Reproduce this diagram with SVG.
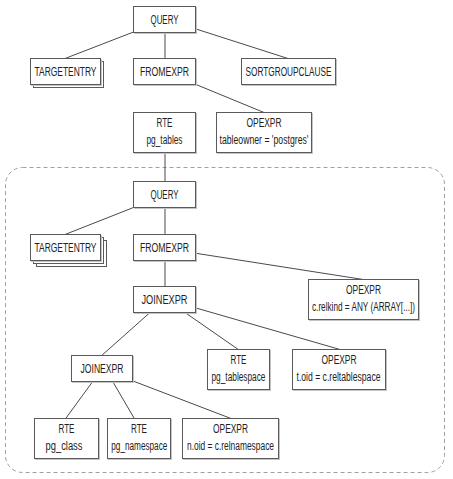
<svg xmlns="http://www.w3.org/2000/svg" width="453" height="479" viewBox="0 0 453 479">
<style>
.box{fill:#fff;stroke:#5a5a5a;stroke-width:1}
.sh{fill:none;stroke:#c4c4c4;stroke-width:1}
.stk{fill:#fff;stroke:#5a5a5a;stroke-width:1}
text{font-family:"Liberation Sans",Arial,sans-serif;font-size:12px;fill:#222;text-anchor:middle}
.conn line{stroke:#4a4a4a;stroke-width:1}
.frame{fill:none;stroke:#a0a0a0;stroke-width:1;stroke-dasharray:4 3}
</style>
<rect class="frame" x="5.5" y="167.5" width="439" height="305" rx="17"/>
<g class="conn">
<line x1="133.5" y1="32" x2="65" y2="58.5"/>
<line x1="165" y1="32.5" x2="165" y2="58.5"/>
<line x1="196" y1="29" x2="288" y2="58.5"/>
<line x1="196" y1="84.5" x2="264" y2="112.5"/>
<line x1="165" y1="152.5" x2="165" y2="181.5"/>
<line x1="133.5" y1="207.5" x2="65" y2="234.5"/>
<line x1="165" y1="207.5" x2="165" y2="234.5"/>
<line x1="196" y1="253.3" x2="363.3" y2="279.5"/>
<line x1="165" y1="260.5" x2="165" y2="286.5"/>
<line x1="150" y1="312.5" x2="101.7" y2="355.5"/>
<line x1="185" y1="312.5" x2="238.3" y2="349.5"/>
<line x1="196" y1="308" x2="340" y2="349.5"/>
<line x1="92.7" y1="381.5" x2="65.7" y2="418.5"/>
<line x1="112.7" y1="381.5" x2="134.3" y2="418.5"/>
<line x1="133" y1="381" x2="231" y2="418.5"/>
</g>
<g id="query1"><rect class="sh" x="134.5" y="7.5" width="62" height="26"/><rect class="box" x="133.5" y="6.5" width="62" height="26"/><text x="164.5" y="23.5" textLength="28" lengthAdjust="spacingAndGlyphs">QUERY</text></g>
<g id="targetentry1"><rect class="stk" x="33.5" y="61.5" width="70" height="26"/><rect class="sh" x="31.5" y="59.5" width="70" height="26"/><rect class="box" x="30.5" y="58.5" width="70" height="26"/><text x="65.5" y="75.5" textLength="62" lengthAdjust="spacingAndGlyphs">TARGETENTRY</text></g>
<g id="fromexpr1"><rect class="sh" x="134.5" y="59.5" width="62" height="26"/><rect class="box" x="133.5" y="58.5" width="62" height="26"/><text x="164.5" y="75.5" textLength="49" lengthAdjust="spacingAndGlyphs">FROMEXPR</text></g>
<g id="sortgroupclause"><rect class="sh" x="242.5" y="59.5" width="94" height="26"/><rect class="box" x="241.5" y="58.5" width="94" height="26"/><text x="288.5" y="75.5" textLength="86" lengthAdjust="spacingAndGlyphs">SORTGROUPCLAUSE</text></g>
<g id="rte_pg_tables"><rect class="sh" x="134.5" y="113.5" width="62" height="40"/><rect class="box" x="133.5" y="112.5" width="62" height="40"/><text x="164.5" y="126.5" textLength="16" lengthAdjust="spacingAndGlyphs">RTE</text><text x="164.5" y="144" textLength="36" lengthAdjust="spacingAndGlyphs">pg_tables</text></g>
<g id="opexpr_tableowner"><rect class="sh" x="217.5" y="113.5" width="95" height="40"/><rect class="box" x="216.5" y="112.5" width="95" height="40"/><text x="264" y="126.5" textLength="35" lengthAdjust="spacingAndGlyphs">OPEXPR</text><text x="264" y="144" textLength="89" lengthAdjust="spacingAndGlyphs">tableowner = 'postgres'</text></g>
<g id="query2"><rect class="sh" x="134.5" y="182.5" width="62" height="26"/><rect class="box" x="133.5" y="181.5" width="62" height="26"/><text x="164.5" y="198.5" textLength="28" lengthAdjust="spacingAndGlyphs">QUERY</text></g>
<g id="targetentry2"><rect class="stk" x="36.5" y="240.5" width="70" height="26"/><rect class="stk" x="33.5" y="237.5" width="70" height="26"/><rect class="sh" x="31.5" y="235.5" width="70" height="26"/><rect class="box" x="30.5" y="234.5" width="70" height="26"/><text x="65.5" y="251.5" textLength="62" lengthAdjust="spacingAndGlyphs">TARGETENTRY</text></g>
<g id="fromexpr2"><rect class="sh" x="134.5" y="235.5" width="62" height="26"/><rect class="box" x="133.5" y="234.5" width="62" height="26"/><text x="164.5" y="251.5" textLength="49" lengthAdjust="spacingAndGlyphs">FROMEXPR</text></g>
<g id="opexpr_relkind"><rect class="sh" x="309.5" y="280.5" width="110" height="40"/><rect class="box" x="308.5" y="279.5" width="110" height="40"/><text x="363.5" y="293.5" textLength="35" lengthAdjust="spacingAndGlyphs">OPEXPR</text><text x="363.5" y="311" textLength="103" lengthAdjust="spacingAndGlyphs">c.relkind = ANY (ARRAY[...])</text></g>
<g id="joinexpr1"><rect class="sh" x="134.5" y="287.5" width="62" height="26"/><rect class="box" x="133.5" y="286.5" width="62" height="26"/><text x="164.5" y="303.5" textLength="46" lengthAdjust="spacingAndGlyphs">JOINEXPR</text></g>
<g id="joinexpr2"><rect class="sh" x="72.5" y="356.5" width="61" height="26"/><rect class="box" x="71.5" y="355.5" width="61" height="26"/><text x="102" y="372.5" textLength="43" lengthAdjust="spacingAndGlyphs">JOINEXPR</text></g>
<g id="rte_pg_tablespace"><rect class="sh" x="208.5" y="350.5" width="62" height="40"/><rect class="box" x="207.5" y="349.5" width="62" height="40"/><text x="238.5" y="363.5" textLength="16" lengthAdjust="spacingAndGlyphs">RTE</text><text x="238.5" y="381" textLength="54" lengthAdjust="spacingAndGlyphs">pg_tablespace</text></g>
<g id="opexpr_reltablespace"><rect class="sh" x="293.5" y="350.5" width="93" height="40"/><rect class="box" x="292.5" y="349.5" width="93" height="40"/><text x="339" y="363.5" textLength="35" lengthAdjust="spacingAndGlyphs">OPEXPR</text><text x="338.5" y="381" textLength="84" lengthAdjust="spacingAndGlyphs">t.oid = c.reltablespace</text></g>
<g id="rte_pg_class"><rect class="sh" x="35.5" y="419.5" width="64" height="40"/><rect class="box" x="34.5" y="418.5" width="64" height="40"/><text x="66.5" y="432.5" textLength="16" lengthAdjust="spacingAndGlyphs">RTE</text><text x="64" y="450" textLength="37" lengthAdjust="spacingAndGlyphs">pg_class</text></g>
<g id="rte_pg_namespace"><rect class="sh" x="108.5" y="419.5" width="63" height="40"/><rect class="box" x="107.5" y="418.5" width="63" height="40"/><text x="139" y="432.5" textLength="16" lengthAdjust="spacingAndGlyphs">RTE</text><text x="139.3" y="450" textLength="56" lengthAdjust="spacingAndGlyphs">pg_namespace</text></g>
<g id="opexpr_relnamespace"><rect class="sh" x="183.5" y="419.5" width="96" height="40"/><rect class="box" x="182.5" y="418.5" width="96" height="40"/><text x="230.5" y="432.5" textLength="35" lengthAdjust="spacingAndGlyphs">OPEXPR</text><text x="230.5" y="450" textLength="87" lengthAdjust="spacingAndGlyphs">n.oid = c.relnamespace</text></g>
</svg>
